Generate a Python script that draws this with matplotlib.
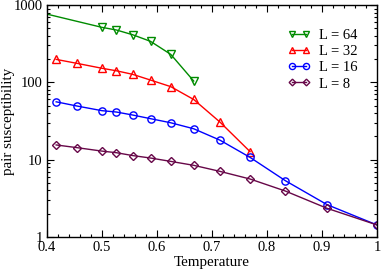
import matplotlib
matplotlib.use("Agg")
import matplotlib.pyplot as plt
from matplotlib.ticker import FixedLocator, LogLocator, NullFormatter, FixedFormatter, MultipleLocator

plt.rcParams['font.family'] = ['Liberation Serif', 'DejaVu Serif']
plt.rcParams['mathtext.fontset'] = 'stix'

# Data (x = temperature axis values)
x64 = [0.3846, 0.5, 0.5263, 0.5556, 0.5882, 0.625, 0.6667]
y64 = [810, 514, 475, 413, 339, 230, 104]

x32 = [0.4167, 0.4545, 0.5, 0.5263, 0.5556, 0.5882, 0.625, 0.6667, 0.7143, 0.7692]
y32 = [198, 176, 152, 141, 127, 107, 88, 60, 30.7, 12.7]

x16 = [0.4167, 0.4545, 0.5, 0.5263, 0.5556, 0.5882, 0.625, 0.6667, 0.7143, 0.7692, 0.8333, 0.9091, 1.0]
y16 = [56, 49.4, 43, 41.3, 37.8, 33.9, 30, 25.1, 17.9, 10.7, 5.35, 2.62, 1.43]

x8 = [0.4167, 0.4545, 0.5, 0.5263, 0.5556, 0.5882, 0.625, 0.6667, 0.7143, 0.7692, 0.8333, 0.9091, 1.0]
y8 = [15.5, 14.3, 12.9, 12.3, 11.3, 10.5, 9.5, 8.45, 7.06, 5.62, 3.93, 2.35, 1.43]

labels = ["L = 64", "L = 32", "L = 16", "L = 8"]
xticks = [0.4, 0.5, 0.6, 0.7, 0.8, 0.9, 1.0]
xticklabels = ["0.4", "0.5", "0.6", "0.7", "0.8", "0.9", "1"]
yticks = [1, 10, 100, 1000]
yticklabels = ["1", "10", "100", "1000"]

fig = plt.figure(figsize=(3.82, 2.71), dpi=100)
ax = fig.add_axes([0.123, 0.1255, 0.864, 0.856])

style = dict(lw=1.0, ms=5.2, mew=1.0, mfc='none')
ax.plot(x64, y64, color='#008b00', marker='v', label=labels[0], **style)
ax.plot(x32, y32, color='#ff0000', marker='^', label=labels[1], **style)
ax.plot(x16, y16, color='#0000ff', marker='o', label=labels[2], **style)
ax.plot(x8, y8, color='#670748', marker='D', label=labels[3], lw=1.0, ms=4.0, mew=1.0, mfc='none')

ax.set_yscale('log')
ax.set_xlim(0.4, 1.0)
ax.set_ylim(1, 1000)

ax.xaxis.set_major_locator(FixedLocator(xticks))
ax.xaxis.set_major_formatter(FixedFormatter(xticklabels))
ax.xaxis.set_minor_locator(MultipleLocator(0.02))
ax.yaxis.set_major_locator(FixedLocator(yticks))
ax.yaxis.set_major_formatter(FixedFormatter(yticklabels))
ax.yaxis.set_minor_locator(LogLocator(base=10, subs=range(2, 10)))
ax.yaxis.set_minor_formatter(NullFormatter())

ax.tick_params(which='both', direction='in', top=True, right=True, labelsize=10.5)
ax.tick_params(which='major', length=5, width=0.8, pad=3)
ax.tick_params(which='minor', length=2.5, width=0.8)
for s in ax.spines.values():
    s.set_linewidth(1.0)

ax.set_xlabel("Temperature", fontsize=10.8, labelpad=1)
ax.set_ylabel("pair susceptibility", fontsize=10.8)
ax.yaxis.set_label_coords(-0.097, 0.5)

ax.legend(loc='upper left', bbox_to_anchor=(0.71, 0.922), frameon=False, numpoints=2,
          fontsize=10.5, handlelength=1.6, handletextpad=0.6, labelspacing=0.2,
          markerscale=0.85, borderaxespad=0)

fig.savefig("out.png", dpi=100)
